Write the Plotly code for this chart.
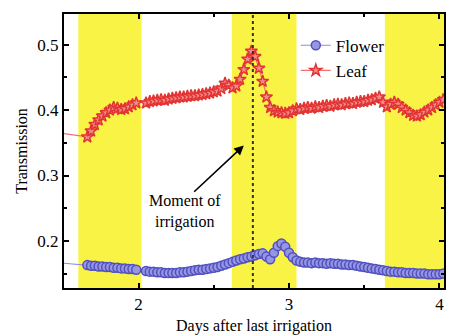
import plotly.graph_objects as go

# ---- data ----
days_seg1 = [1.660, 1.685, 1.710, 1.735, 1.760, 1.785, 1.810, 1.835, 1.860, 1.885, 1.910, 1.935, 1.960, 1.985]
days_seg2 = [2.050, 2.075, 2.100, 2.125, 2.150, 2.175, 2.200, 2.225, 2.250, 2.275,
             2.300, 2.325, 2.350, 2.375, 2.400, 2.425, 2.450, 2.475, 2.500, 2.525,
             2.550, 2.575, 2.600, 2.625, 2.650, 2.675, 2.700, 2.725, 2.750, 2.775,
             2.800, 2.825, 2.850, 2.875, 2.900, 2.925, 2.950, 2.975, 3.000, 3.025,
             3.050, 3.075, 3.100, 3.125, 3.150, 3.175, 3.200, 3.225, 3.250, 3.275,
             3.300, 3.325, 3.350, 3.375, 3.400, 3.425, 3.450, 3.475, 3.500, 3.525,
             3.550, 3.575, 3.600, 3.625, 3.650, 3.675, 3.700, 3.725, 3.750, 3.775,
             3.800, 3.825, 3.850, 3.875, 3.900, 3.925, 3.950, 3.975, 4.000, 4.025]
day_before = 1.45

leaf_before = 0.366
leaf_seg1 = [0.359, 0.368, 0.378, 0.385, 0.391, 0.396, 0.400, 0.404, 0.403, 0.401, 0.402, 0.405, 0.408, 0.411]
leaf_seg2 = [0.411, 0.413, 0.414, 0.415, 0.416, 0.415, 0.417, 0.418, 0.419, 0.420,
             0.420, 0.421, 0.422, 0.422, 0.423, 0.424, 0.425, 0.426, 0.428, 0.429,
             0.433, 0.441, 0.438, 0.434, 0.437, 0.447, 0.462, 0.478, 0.490, 0.482,
             0.464, 0.444, 0.420, 0.404, 0.399, 0.397, 0.396, 0.395, 0.396, 0.399,
             0.402, 0.401, 0.403, 0.404, 0.403, 0.405, 0.404, 0.406, 0.407, 0.406,
             0.408, 0.409, 0.408, 0.410, 0.411, 0.410, 0.412, 0.413, 0.413, 0.415,
             0.416, 0.418, 0.420, 0.412, 0.405, 0.409, 0.412, 0.409, 0.404, 0.400,
             0.396, 0.392, 0.391, 0.393, 0.397, 0.400, 0.404, 0.408, 0.412, 0.416]

flower_before = 0.167
flower_seg1 = [0.163, 0.162, 0.162, 0.161, 0.161, 0.160, 0.160, 0.159, 0.159, 0.158, 0.158, 0.157, 0.157, 0.156]
flower_seg2 = [0.154, 0.153, 0.153, 0.152, 0.152, 0.151, 0.151, 0.151, 0.151, 0.152,
               0.152, 0.153, 0.154, 0.155, 0.156, 0.156, 0.157, 0.158, 0.159, 0.160,
               0.162, 0.164, 0.166, 0.168, 0.170, 0.172, 0.173, 0.175, 0.176, 0.178,
               0.180, 0.181, 0.176, 0.172, 0.182, 0.192, 0.196, 0.191, 0.182, 0.175,
               0.170, 0.168, 0.167, 0.167, 0.166, 0.167, 0.166, 0.166, 0.165, 0.166,
               0.165, 0.165, 0.164, 0.164, 0.163, 0.163, 0.162, 0.161, 0.160, 0.159,
               0.158, 0.157, 0.156, 0.155, 0.154, 0.153, 0.153, 0.152, 0.152, 0.151,
               0.151, 0.151, 0.150, 0.150, 0.150, 0.149, 0.149, 0.149, 0.149, 0.150]

night_bands = [(1.60, 2.02), (2.62, 3.05), (3.637, 4.10)]
irrigation_day = 2.76

x_ticks = [2, 3, 4]
y_ticks = [0.2, 0.3, 0.4, 0.5]

# ---- build ----
x_all = [day_before] + days_seg1 + [None] + days_seg2
leaf_all = [leaf_before] + leaf_seg1 + [None] + leaf_seg2
flower_all = [flower_before] + flower_seg1 + [None] + flower_seg2

FONT = "Liberation Serif"
fig = go.Figure()

fig.add_trace(go.Scatter(
    x=x_all, y=flower_all, name="Flower", mode="lines+markers",
    line=dict(color="#8c8cdc", width=1.2),
    marker=dict(symbol="circle", size=9, color="#9696e2",
                line=dict(color="#5050c0", width=1.5)),
    connectgaps=False,
))
fig.add_trace(go.Scatter(
    x=x_all, y=leaf_all, name="Leaf", mode="lines+markers",
    line=dict(color="#f07070", width=1.2),
    marker=dict(symbol="star", size=9, color="#f28c8c",
                line=dict(color="#e33434", width=1.5)),
    connectgaps=False,
))

for x0, x1 in night_bands:
    fig.add_shape(type="rect", xref="x", yref="paper", x0=x0, x1=x1, y0=0, y1=1,
                  fillcolor="#f9f345", line=dict(width=0), layer="below")

fig.add_shape(type="line", xref="x", yref="paper", x0=irrigation_day, x1=irrigation_day,
              y0=0, y1=1, line=dict(color="#333333", width=2, dash="dot"))

fig.add_annotation(x=2.70, y=0.346, xref="x", yref="y", ax=2.36, ay=0.273,
                   axref="x", ayref="y", text="", showarrow=True,
                   arrowhead=2, arrowsize=1.2, arrowwidth=1.6, arrowcolor="black")
fig.add_annotation(x=2.31, y=0.245, xref="x", yref="y",
                   text="Moment of<br>irrigation", showarrow=False,
                   font=dict(family=FONT, size=16, color="black"), align="center")

axis_common = dict(showline=True, linecolor="black", linewidth=2, mirror="ticks",
                   ticks="inside", ticklen=5, tickwidth=2, tickcolor="black",
                   showgrid=False, zeroline=False,
                   tickfont=dict(family=FONT, size=17, color="black"))

fig.update_xaxes(range=[1.505, 4.03], tickvals=x_ticks,
                 minor=dict(ticks="inside", ticklen=3, tickwidth=2, tickcolor="black", dtick=0.5, tick0=1.5),
                 title=dict(text="Days after last irrigation",
                            font=dict(family=FONT, size=16, color="black"), standoff=6),
                 **axis_common)
fig.update_yaxes(range=[0.128, 0.547], tickvals=y_ticks, tickformat=".1f",
                 minor=dict(ticks="inside", ticklen=3, tickwidth=2, tickcolor="black", dtick=0.05, tick0=0.15),
                 title=dict(text="Transmission",
                            font=dict(family=FONT, size=16, color="black"), standoff=6),
                 **axis_common)

fig.update_layout(
    width=449, height=336,
    margin=dict(l=64, r=3, t=14, b=48),
    plot_bgcolor="white", paper_bgcolor="white",
    showlegend=True,
    legend=dict(x=0.61, y=0.95, xanchor="left", yanchor="top",
                bgcolor="rgba(0,0,0,0)", font=dict(family=FONT, size=17, color="black"),
                tracegroupgap=0, itemwidth=30),
)

fig.write_html("out.html", config={"displayModeBar": False},
               post_script="document.body.style.margin='0';document.body.style.padding='0';")
